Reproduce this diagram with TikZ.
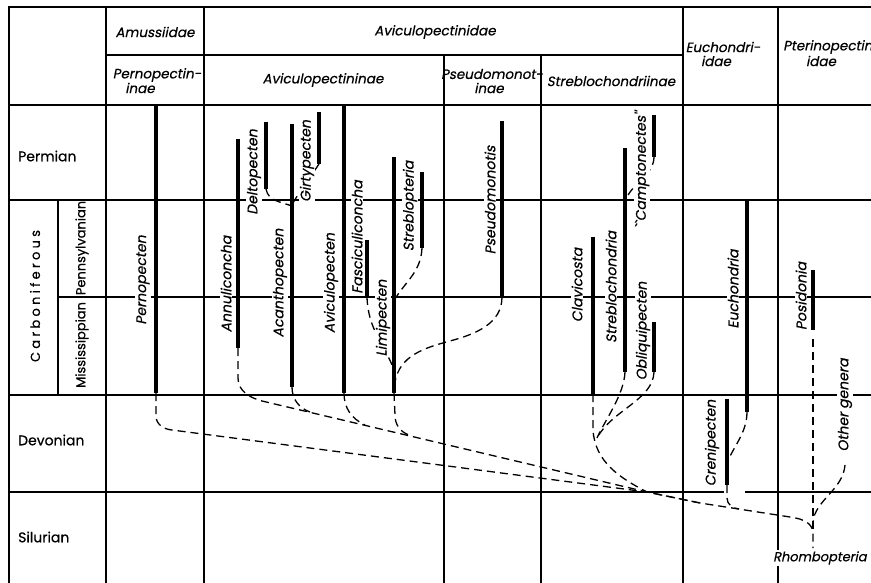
\documentclass[tikz,border=0pt]{standalone}
\usepackage{fontspec}
\setmainfont{Poppins}[FakeBold=0.5]
\newfontfamily\slfont{Poppins}[FakeSlant=0.2, FakeBold=0.5]
\newfontfamily\spfont{Poppins}[FakeBold=0.5, LetterSpace=25]
\begin{document}
\begin{tikzpicture}[x=1pt,y=-1pt,
  gridl/.style={line width=1.4pt},
  barl/.style={line width=3.6pt},
  dsh/.style={line width=1.3pt, dash pattern=on 8pt off 5pt},
  lab/.style={font=\slfont\fontsize{14}{14}\selectfont, fill=white, inner sep=1pt, rotate=90},
  hdr/.style={font=\slfont\fontsize{13.5}{14}\selectfont, inner sep=0pt},
  era/.style={font=\fontsize{14}{14}\selectfont, anchor=west, inner sep=0pt},
  erav/.style={font=\fontsize{13}{13}\selectfont, rotate=90, inner sep=1pt}]
\useasboundingbox (0,0) rectangle (871,583);
\clip (0,0) rectangle (871,583);
\fill[white] (0,0) rectangle (871,583);
% grid
\draw[gridl] (9,583) -- (9,7) -- (871,7);
\draw[gridl] (106,7) -- (106,583);
\draw[gridl] (204,7) -- (204,583);
\draw[gridl] (683,7) -- (683,583);
\draw[gridl] (778,7) -- (778,583);
\draw[gridl] (444,55) -- (444,583);
\draw[gridl] (541,55) -- (541,583);
\draw[gridl] (106,55) -- (683,55);
\draw[gridl] (9,105) -- (871,105);
\draw[gridl] (9,200) -- (871,200);
\draw[gridl] (58,297) -- (871,297);
\draw[gridl] (58,200) -- (58,395);
\draw[gridl] (9,395) -- (871,395);
\draw[gridl] (9,492) -- (724,492);
\draw[gridl] (745,492) -- (871,492);
% headers
\node[hdr] (hamu) at (155,32) {Amussiidae};
\node[hdr] (havi) at (435,32) {Aviculopectinidae};
\node[hdr] (hper1) at (157,75) {Pernopectin-};
\node[hdr] (hper2) at (140,88) {inae};
\node[hdr] (havs) at (323,80) {Aviculopectininae};
\node[hdr] (hpse1) at (492,74) {Pseudomonot-};
\node[hdr] (hpse2) at (489,88) {inae};
\node[hdr] (hstr) at (611,81) {Streblochondriinae};
\node[hdr] (heuc1) at (723,47) {Euchondri-};
\node[hdr] (heuc2) at (716,61) {idae};
\node[hdr, anchor=west] (hpte1) at (783,47) {Pterinopectin-};
\node[hdr] (hpte2) at (821,61) {idae};
% eras
\node[era] (eperm) at (18,156) {Permian};
\node[era] (edev) at (18,440) {Devonian};
\node[era] (esil) at (18,537) {Silurian};
\node[erav, font=\spfont\fontsize{13}{13}\selectfont] (ecarb) at (35,296) {Carboniferous};
\node[erav] (epenn) at (82,248) {Pennsylvanian};
\node[erav] (emiss) at (82,345) {Mississippian};
% coordinates of ranges
\coordinate (perT) at (156,105); \coordinate (perB) at (156,393);
\coordinate (annT) at (238,139); \coordinate (annB) at (238,348);
\coordinate (delT) at (266,122); \coordinate (delB) at (266,189);
\coordinate (acaT) at (292,124); \coordinate (acaB) at (292,387);
\coordinate (girT) at (319,112); \coordinate (girB) at (319,164);
\coordinate (aviT) at (344,105); \coordinate (aviB) at (344,393);
\coordinate (fasT) at (367,240); \coordinate (fasB) at (367,297);
\coordinate (limT) at (394,157); \coordinate (limB) at (394,393);
\coordinate (strT) at (422,172); \coordinate (strB) at (422,248);
\coordinate (psT) at (502,121); \coordinate (psB) at (502,297);
\coordinate (claT) at (593,237); \coordinate (claB) at (593,394);
\coordinate (sbcT) at (625,148); \coordinate (sbcB) at (625,372);
\coordinate (oblT) at (654,322); \coordinate (oblB) at (654,372);
\coordinate (camT) at (654,115); \coordinate (camB) at (654,157);
\coordinate (eucT) at (747,200); \coordinate (eucB) at (747,412);
\coordinate (creT) at (727,399); \coordinate (creB) at (727,485);
\coordinate (posT) at (813,270); \coordinate (posB) at (813,330);
\coordinate (posD) at (813,339);
\coordinate (othB) at (845,465);
\coordinate (rhoJ) at (813,532); \coordinate (rhoE) at (813,548);
\coordinate (jA) at (262,401);
\coordinate (jB) at (172,430);
\coordinate (jM) at (647,492);
\coordinate (jN) at (700,503);
\coordinate (jR) at (790,517);
\coordinate (jS) at (597,438);
% dashed connectors
\draw[dsh] (perB) -- (156,416) to[out=-90,in=175] (jB) -- (jM) -- (jN) -- (jR)
   .. controls (805,519) and (812,524) .. (rhoJ) -- (rhoE);
\draw[dsh] (annB) -- (238,378) to[out=-90,in=165] (jA) -- (jM) -- (jN);
\draw[dsh] (acaB) to[out=-90,in=160] (310,412);
\draw[dsh] (aviB) to[out=-90,in=155] (365,425);
\draw[dsh] (limB) -- (395,415) to[out=-90,in=160] (409,435);
\draw[dsh] (delB) to[out=-80,in=160] (292,206);
\draw[dsh] (girB) .. controls (305,185) and (297,195) .. (292,205);
\draw[dsh] (fasB) .. controls (368,330) and (385,345) .. (394,370);
\draw[dsh] (strB) .. controls (421,272) and (405,282) .. (395,299);
\draw[dsh] (psB) to[out=-90,in=15] (450,341) to[out=195,in=80] (395,382);
\draw[dsh] (camB) .. controls (654,175) and (630,185) .. (626,200);
\draw[dsh] (sbcB) .. controls (624,395) and (605,420) .. (jS);
\draw[dsh] (oblB) .. controls (653,400) and (612,410) .. (jS);
\draw[dsh] (claB) -- (593,430) .. controls (595,462) and (620,478) .. (jM);
\draw[dsh] (eucB) .. controls (747,435) and (730,450) .. (727,465);
\draw[dsh] (creB) -- (727,498) to[out=-90,in=175] (739,509);
\draw[dsh] (posD) -- (rhoJ);
\draw[dsh] (othB) .. controls (843,490) and (815,500) .. (813,522);
% genus labels
\node[lab] (lper) at (143,280) {Pernopecten};
\node[lab] (lann) at (226,284) {Annuliconcha};
\node[lab] (ldel) at (254,172) {Deltopecten};
\node[lab] (laca) at (280,283) {Acanthopecten};
\node[lab] (lgir) at (307,161) {Girtypecten};
\node[lab] (lavi) at (331,283) {Aviculopecten};
\node[lab] (lfas) at (357,237) {Fasciculiconcha};
\node[lab] (llim) at (383,318) {Limipecten};
\node[lab] (lstr) at (410,206) {Streblopteria};
\node[lab] (lpse) at (490,200) {Pseudomonotis};
\node[lab] (lcla) at (577,285) {Clavicosta};
\node[lab] (lsbc) at (611,287) {Streblochondria};
\node[lab] (lobl) at (643,331) {Obliquipecten};
\node[lab] (lcam) at (642,170) {``Camptonectes''};
\node[lab] (leuc) at (733,289) {Euchondria};
\node[lab] (lcre) at (712,443) {Crenipecten};
\node[lab] (lpos) at (801,296) {Posidonia};
\node[lab] (loth) at (845,405) {Other genera};
\node[lab, rotate=-90, anchor=west, font=\slfont\fontsize{13}{13}\selectfont] (lrho) at (772,558) {Rhombopteria};
% range bars
\draw[barl] (perT) -- (perB);
\draw[barl] (annT) -- (annB);
\draw[barl] (delT) -- (delB);
\draw[barl] (acaT) -- (acaB);
\draw[barl] (girT) -- (girB);
\draw[barl] (aviT) -- (aviB);
\draw[barl] (fasT) -- (fasB);
\draw[barl] (limT) -- (limB);
\draw[barl] (strT) -- (strB);
\draw[barl] (psT) -- (psB);
\draw[barl] (claT) -- (claB);
\draw[barl] (sbcT) -- (sbcB);
\draw[barl] (oblT) -- (oblB);
\draw[barl] (camT) -- (camB);
\draw[barl] (eucT) -- (eucB);
\draw[barl] (creT) -- (creB);
\draw[barl] (posT) -- (posB);
\end{tikzpicture}
\end{document}
